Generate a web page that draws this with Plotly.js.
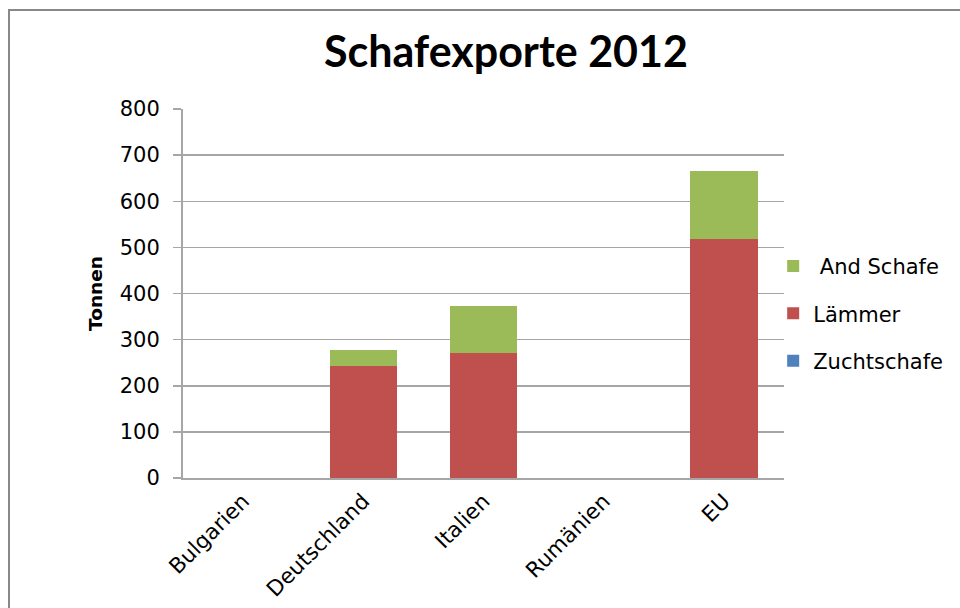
<!DOCTYPE html>
<html>
<head>
<meta charset="utf-8">
<script src="https://cdn.plot.ly/plotly-3.0.1.min.js"></script>
<style>html,body{margin:0;padding:0;background:#fff;}#chart{width:960px;height:608px;}</style>
</head>
<body>
<div id="chart"></div>
<script>
const categories = ["Bulgarien", "Deutschland", "Italien", "Rumänien", "EU"];
const zuchtschafe = [0, 0, 0, 0, 0];
const laemmer = [0, 243, 272, 0, 519];
const andSchafe = [0, 34, 100, 0, 147];
const yTicks = [0, 100, 200, 300, 400, 500, 600, 700, 800];

const font = "'DejaVu Sans', 'Noto Sans', sans-serif";

const traces = [
  {name: "Zuchtschafe", y: zuchtschafe, color: "#4F81BD", rank: 3},
  {name: "Lämmer", y: laemmer, color: "#C0504D", rank: 2},
  {name: " And Schafe", y: andSchafe, color: "#9BBB59", rank: 1}
].map((t, i) => ({
  type: "bar", x: categories, y: t.y, name: t.name,
  legendgroup: "g" + i, legendrank: t.rank,
  marker: {color: t.color, line: {width: 0}},
  hoverinfo: "x+y+name"
}));

const layout = {
  width: 960, height: 608,
  barmode: "stack",
  bargap: 0.44,
  paper_bgcolor: "#fff", plot_bgcolor: "#fff",
  margin: {l: 183, r: 176, t: 109, b: 130, autoexpand: false},
  title: {text: "<b>Schafexporte 2012</b>", font: {family: "Lato, 'Open Sans', sans-serif", size: 43, color: "#000"}, x: 0.527, xanchor: "center", y: 0.915, yanchor: "middle"},
  font: {family: font, color: "#000"},
  xaxis: {
    type: "category", tickangle: -45, tickfont: {size: 21.5, color: "#000"},
    showline: true, linecolor: "#a6a6a6", linewidth: 2, ticks: "", showgrid: false, zeroline: false,
    automargin: false
  },
  yaxis: {
    range: [0, 800], tickvals: yTicks, ticktext: yTicks.map(String),
    tickfont: {size: 21, color: "#000"}, ticklabelstandoff: 9,
    showgrid: true, gridcolor: "#a6a6a6", gridwidth: 1.5,
    showline: true, linecolor: "#a6a6a6", linewidth: 2,
    ticks: "outside", ticklen: 8, tickcolor: "#a6a6a6", tickwidth: 1.5,
    zeroline: false, automargin: false,
    title: {text: "<b>Tonnen</b>", font: {size: 18.5, color: "#000"}, standoff: 12}
  },
  legend: {
    x: 0.982, xanchor: "left", y: 0.629, yanchor: "top",
    traceorder: "grouped", tracegroupgap: 17,
    font: {size: 21, color: "#000"}, bgcolor: "rgba(0,0,0,0)", itemwidth: 30
  },
  shapes: [
    {type: "rect", xref: "paper", yref: "paper",
     x0: -174/601, x1: 1.4, y0: -0.6, y1: 1 + 99/369,
     line: {color: "#888", width: 2}, fillcolor: "rgba(0,0,0,0)", layer: "below"}
  ],
  showlegend: true
};

Plotly.newPlot("chart", traces, layout, {displayModeBar: false, staticPlot: true});
</script>
</body>
</html>
